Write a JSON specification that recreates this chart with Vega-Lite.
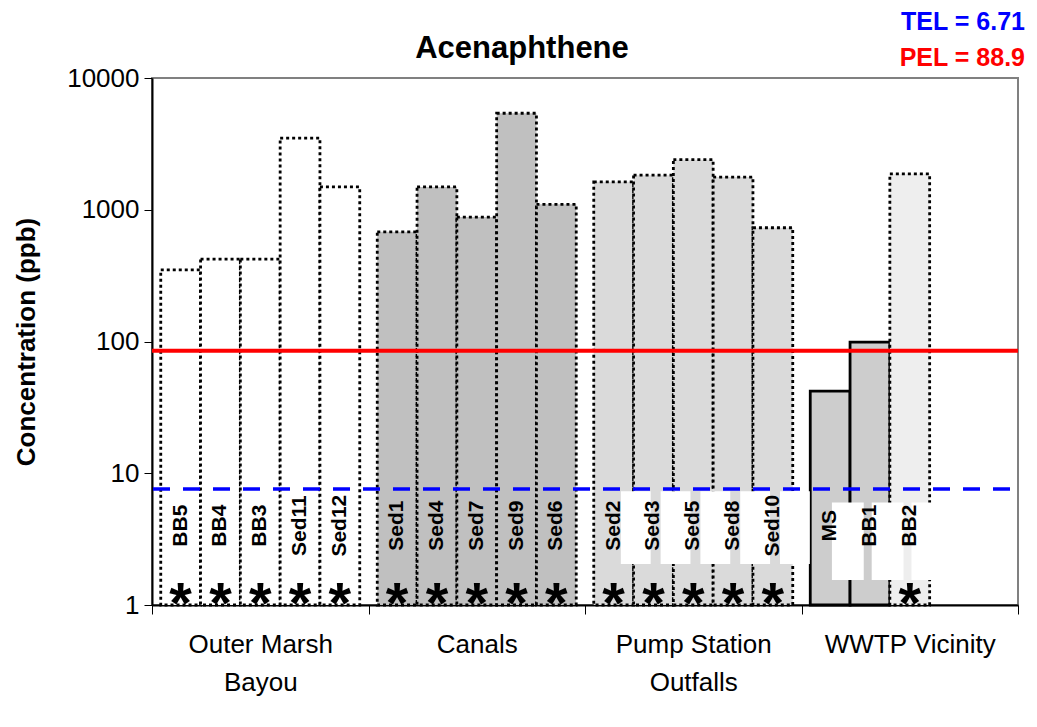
{
  "$schema": "https://vega.github.io/schema/vega-lite/v6.json",
  "width": 866,
  "height": 527,
  "autosize": {"type": "none"},
  "padding": {"left": 152, "top": 78, "right": 19, "bottom": 122},
  "background": "white",
  "config": {
    "font": "Liberation Sans",
    "view": {"stroke": "#808080", "strokeWidth": 2}
  },
  "title": {
    "text": "Acenaphthene",
    "fontSize": 31,
    "fontWeight": "bold",
    "color": "black",
    "anchor": "middle",
    "frame": "group",
    "dx": -63,
    "baseline": "alphabetic",
    "offset": -79
  },
  "data": {
    "values": [
      {"group": "Outer Marsh Bayou", "series": 1, "sample": "BB5", "value": 350, "star": true},
      {"group": "Outer Marsh Bayou", "series": 2, "sample": "BB4", "value": 422, "star": true},
      {"group": "Outer Marsh Bayou", "series": 3, "sample": "BB3", "value": 422, "star": true},
      {"group": "Outer Marsh Bayou", "series": 4, "sample": "Sed11", "value": 3500, "star": true},
      {"group": "Outer Marsh Bayou", "series": 5, "sample": "Sed12", "value": 1490, "star": true},
      {"group": "Canals", "series": 1, "sample": "Sed1", "value": 680, "star": true},
      {"group": "Canals", "series": 2, "sample": "Sed4", "value": 1490, "star": true},
      {"group": "Canals", "series": 3, "sample": "Sed7", "value": 880, "star": true},
      {"group": "Canals", "series": 4, "sample": "Sed9", "value": 5400, "star": true},
      {"group": "Canals", "series": 5, "sample": "Sed6", "value": 1100, "star": true},
      {"group": "Pump Station Outfalls", "series": 1, "sample": "Sed2", "value": 1630, "star": true},
      {"group": "Pump Station Outfalls", "series": 2, "sample": "Sed3", "value": 1830, "star": true},
      {"group": "Pump Station Outfalls", "series": 3, "sample": "Sed5", "value": 2400, "star": true},
      {"group": "Pump Station Outfalls", "series": 4, "sample": "Sed8", "value": 1770, "star": true},
      {"group": "Pump Station Outfalls", "series": 5, "sample": "Sed10", "value": 730, "star": true},
      {"group": "WWTP Vicinity", "series": 1, "sample": "MS", "value": 42, "star": false},
      {"group": "WWTP Vicinity", "series": 2, "sample": "BB1", "value": 99, "star": false},
      {"group": "WWTP Vicinity", "series": 3, "sample": "BB2", "value": 1870, "star": true}
    ]
  },
  "layer": [
    {
      "mark": {"type": "bar", "stroke": "black", "strokeWidth": 2.8},
      "encoding": {
        "x": {
          "field": "group",
          "type": "nominal",
          "sort": null,
          "scale": {"domain": ["Outer Marsh Bayou", "Canals", "Pump Station Outfalls", "WWTP Vicinity"], "paddingInner": 0, "paddingOuter": 0},
          "title": null,
          "axis": {
            "labelAngle": 0,
            "labelFontSize": 26,
            "labelColor": "black",
            "labelLineHeight": 38,
            "labelPadding": 17,
            "tickBand": "extent",
            "tickSize": 9,
            "tickColor": "black",
            "domainColor": "black",
            "domainWidth": 2,
            "labelExpr": "datum.value == 'Outer Marsh Bayou' ? ['Outer Marsh', 'Bayou'] : datum.value == 'Pump Station Outfalls' ? ['Pump Station', 'Outfalls'] : datum.label"
          }
        },
        "xOffset": {
          "field": "series",
          "type": "ordinal",
          "scale": {"domain": [1, 2, 3, 4, 5], "paddingInner": 0, "paddingOuter": 0.22}
        },
        "y": {
          "field": "value",
          "type": "quantitative",
          "scale": {"type": "log", "domain": [1, 10000]},
          "title": "Concentration (ppb)",
          "axis": {
            "values": [1, 10, 100, 1000, 10000],
            "format": "d",
            "grid": false,
            "labelFontSize": 26,
            "labelColor": "black",
            "labelPadding": 5,
            "tickSize": 8,
            "tickColor": "black",
            "domainColor": "black",
            "domainWidth": 2,
            "titleFontSize": 26,
            "titleFontWeight": "bold",
            "titleColor": "black",
            "titlePadding": 27
          }
        },
        "y2": {"datum": 1},
        "fill": {
          "field": "sample",
          "type": "nominal",
          "scale": {
            "domain": ["BB5", "BB4", "BB3", "Sed11", "Sed12", "Sed1", "Sed4", "Sed7", "Sed9", "Sed6", "Sed2", "Sed3", "Sed5", "Sed8", "Sed10", "MS", "BB1", "BB2"],
            "range": ["#FFFFFF", "#FFFFFF", "#FFFFFF", "#FFFFFF", "#FFFFFF", "#C0C0C0", "#C0C0C0", "#C0C0C0", "#C0C0C0", "#C0C0C0", "#DADADA", "#DADADA", "#DADADA", "#DADADA", "#DADADA", "#CDCDCD", "#CDCDCD", "#EEEEEE"]
          },
          "legend": null
        },
        "strokeDash": {
          "condition": {"test": "datum.sample === 'MS' || datum.sample === 'BB1'", "value": [1, 0]},
          "value": [3, 3]
        }
      }
    },
    {
      "data": {"values": [{"name": "PEL", "level": 85}]},
      "mark": {"type": "rule", "color": "#FF0000", "strokeWidth": 4},
      "encoding": {"y": {"field": "level", "type": "quantitative"}}
    },
    {
      "data": {"values": [{"name": "TEL", "level": 7.6}]},
      "mark": {"type": "rule", "color": "#0000FF", "strokeWidth": 3.5, "strokeDash": [17, 13], "strokeDashOffset": 22},
      "encoding": {"y": {"field": "level", "type": "quantitative"}}
    },
    {
      "transform": [{"filter": "datum.group === 'Pump Station Outfalls'"}],
      "mark": {"type": "bar", "fill": "white", "width": {"band": 0.75}},
      "encoding": {
        "x": {"field": "group", "type": "nominal", "sort": null},
        "xOffset": {"field": "series", "type": "ordinal"},
        "y": {"datum": 2.05},
        "y2": {"datum": 7.3}
      }
    },
    {
      "transform": [{"filter": "datum.group === 'WWTP Vicinity'"}],
      "mark": {"type": "bar", "fill": "white", "width": {"band": 0.8}},
      "encoding": {
        "x": {"field": "group", "type": "nominal", "sort": null},
        "xOffset": {"field": "series", "type": "ordinal"},
        "y": {"datum": 1.55},
        "y2": {"datum": 6.0}
      }
    },
    {
      "mark": {"type": "text", "angle": 270, "fontSize": 21, "fontWeight": "bold", "align": "center", "baseline": "middle", "color": "black"},
      "encoding": {
        "x": {"field": "group", "type": "nominal", "sort": null},
        "xOffset": {"field": "series", "type": "ordinal"},
        "y": {"datum": 4},
        "text": {"field": "sample"}
      }
    },
    {
      "transform": [{"filter": "datum.star"}],
      "mark": {"type": "text", "fontSize": 58, "fontWeight": "bold", "align": "center", "baseline": "alphabetic", "dy": 18, "color": "black"},
      "encoding": {
        "x": {"field": "group", "type": "nominal", "sort": null},
        "xOffset": {"field": "series", "type": "ordinal"},
        "y": {"datum": 1},
        "text": {"value": "*"}
      }
    },
    {
      "data": {"values": [{"label": "TEL = 6.71"}]},
      "mark": {"type": "text", "fontSize": 25, "fontWeight": "bold", "align": "right", "baseline": "middle", "color": "#0000FF", "dx": 7},
      "encoding": {
        "x": {"datum": "WWTP Vicinity", "bandPosition": 1},
        "y": {"datum": 26600},
        "text": {"field": "label"}
      }
    },
    {
      "data": {"values": [{"label": "PEL = 88.9"}]},
      "mark": {"type": "text", "fontSize": 25, "fontWeight": "bold", "align": "right", "baseline": "middle", "color": "#FF0000", "dx": 7},
      "encoding": {
        "x": {"datum": "WWTP Vicinity", "bandPosition": 1},
        "y": {"datum": 14200},
        "text": {"field": "label"}
      }
    }
  ]
}
